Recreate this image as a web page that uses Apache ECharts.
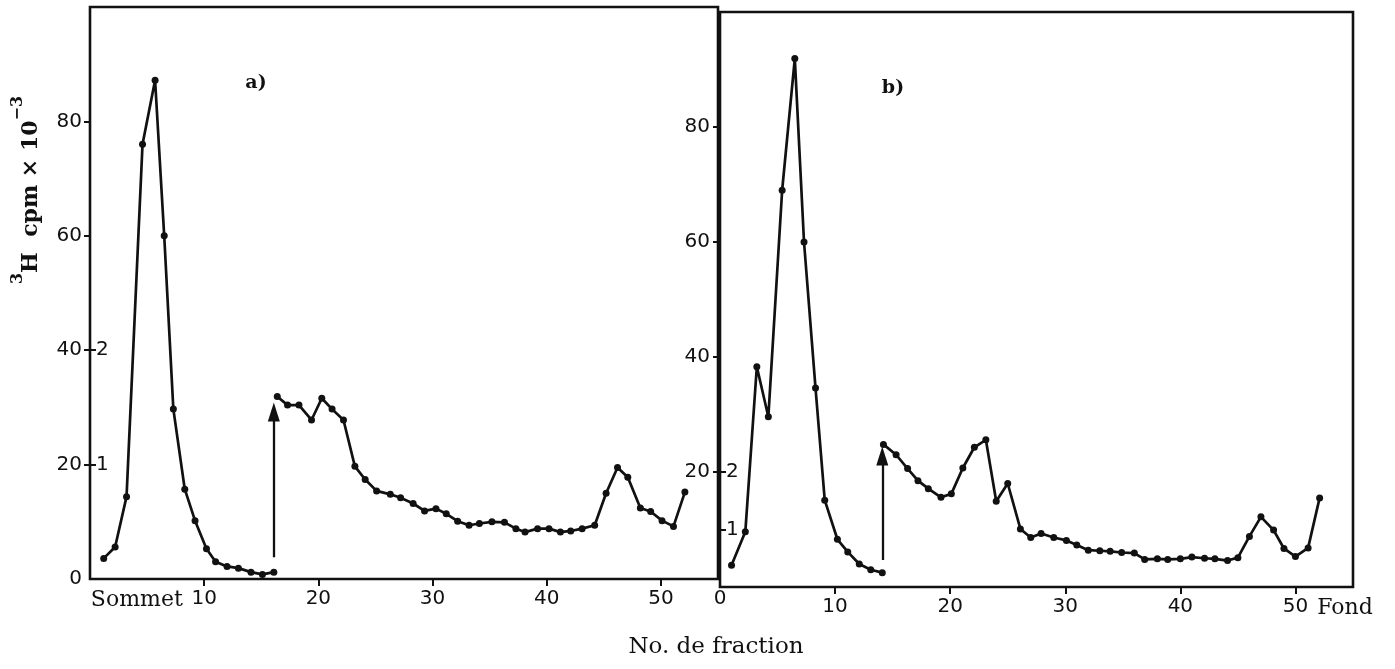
<!DOCTYPE html>
<html>
<head>
<meta charset="utf-8">
<script src="https://cdn.jsdelivr.net/npm/echarts@6/dist/echarts.min.js"></script>
<style>
  html, body { margin: 0; padding: 0; background: #fff; }
  #c { width: 1395px; height: 669px; }
</style>
</head>
<body>
<div id="c"></div>
<script>
// Gradient a): fractions before and after the addition (arrow), 3H cpm x 10^-3
const fracA1 = [1.2, 2.2, 3.2, 4.6, 5.7, 6.5, 7.3, 8.3, 9.2, 10.2, 11.0, 12.0, 13.0, 14.1, 15.1, 16.1];
const cpmA1  = [3.6, 5.6, 14.4, 76.0, 87.2, 60.0, 29.7, 15.7, 10.2, 5.3, 3.0, 2.2, 1.9, 1.2, 0.8, 1.2];
const fracA2 = [16.4, 17.3, 18.3, 19.4, 20.3, 21.2, 22.2, 23.2, 24.1, 25.1, 26.3, 27.2, 28.3, 29.3, 30.3,
                31.2, 32.2, 33.2, 34.1, 35.2, 36.3, 37.3, 38.1, 39.2, 40.2, 41.2, 42.1, 43.1, 44.2, 45.2,
                46.2, 47.1, 48.2, 49.1, 50.1, 51.1, 52.1];
const cpmA2  = [31.9, 30.4, 30.4, 27.8, 31.6, 29.7, 27.8, 19.7, 17.4, 15.4, 14.8, 14.2, 13.2, 11.9, 12.3,
                11.4, 10.1, 9.4, 9.7, 10.0, 9.9, 8.8, 8.2, 8.8, 8.8, 8.2, 8.4, 8.8, 9.4, 15.0,
                19.5, 17.8, 12.4, 11.8, 10.2, 9.2, 15.2];

// Gradient b)
const fracB1 = [1.0, 2.2, 3.2, 4.2, 5.4, 6.5, 7.3, 8.3, 9.1, 10.2, 11.1, 12.1, 13.1, 14.1];
const cpmB1  = [3.8, 9.6, 38.3, 29.6, 69.0, 91.9, 60.0, 34.6, 15.1, 8.3, 6.1, 4.0, 3.0, 2.5];
const fracB2 = [14.2, 15.3, 16.3, 17.2, 18.1, 19.2, 20.1, 21.1, 22.1, 23.1, 24.0, 25.0, 26.1, 27.0, 27.9,
                29.0, 30.1, 31.0, 32.0, 33.0, 33.9, 34.9, 36.0, 36.9, 38.0, 38.9, 40.0, 41.0, 42.1, 43.0,
                44.1, 45.0, 46.0, 47.0, 48.1, 49.0, 50.0, 51.1, 52.1];
const cpmB2  = [24.8, 23.0, 20.6, 18.5, 17.1, 15.6, 16.2, 20.7, 24.3, 25.6, 14.9, 18.0, 10.1, 8.6, 9.3,
                8.6, 8.1, 7.3, 6.4, 6.3, 6.2, 6.0, 5.9, 4.8, 4.9, 4.8, 4.9, 5.2, 5.0, 4.9,
                4.6, 5.1, 8.8, 12.2, 9.9, 6.7, 5.3, 6.8, 15.5];

// Arrows marking the addition: [fraction, from value, to value]
const arrowA = [16.1, 3.8, 29.2];
const arrowB = [14.1, 4.7, 22.8];

// Tick labels
const yTicksA = [0, 20, 40, 60, 80];
const yTicksB = [20, 40, 60, 80];
const xTicksA = [10, 20, 30, 40, 50];
const xTicksB = [0, 10, 20, 30, 40, 50];
// Inner secondary scale (1, 2) on each panel
const innerTicks = [1, 2];
const innerMaxA = 5;   // 1 -> 20, 2 -> 40
const innerMaxB = 10;  // 1 -> 10, 2 -> 20

const INK = '#111';
const SANS = 'DejaVu Sans';
const SERIF = 'DejaVu Serif';

const zip = (xs, ys) => xs.map((x, i) => [x, ys[i]]);

const SOMMET_AT = 4.1;
const FOND_AT = 54.3;

function lineSeries(x, y, xi, yi, arrow) {
  const s = {
    type: 'line',
    xAxisIndex: xi,
    yAxisIndex: yi,
    data: zip(x, y),
    symbol: 'circle',
    symbolSize: 7,
    lineStyle: { color: INK, width: 2.7 },
    itemStyle: { color: INK },
    silent: true,
    z: 3
  };
  if (arrow) {
    s.markLine = {
      silent: true,
      symbol: ['none', 'triangle'],
      label: { show: false },
      lineStyle: { color: INK, width: 2.3, type: 'solid' },
      data: [[
        { coord: [arrow[0], arrow[1]], symbol: 'none' },
        { coord: [arrow[0], arrow[2]], symbol: 'triangle', symbolSize: [12, 19] }
      ]]
    };
  }
  return s;
}

const chart = echarts.init(document.getElementById('c'), null, { renderer: 'canvas' });

const gridStyle = { show: true, borderColor: INK, borderWidth: 2.6, backgroundColor: 'transparent' };

// x labels sit 8px lower than the raised "0" under the b) origin
const xRich = {
  n: { fontFamily: SANS, fontSize: 20, color: INK, padding: [8, 0, 0, 0] },
  z: { fontFamily: SANS, fontSize: 20, color: INK },
  w: { fontFamily: SERIF, fontSize: 22, color: INK, padding: [8, 0, 0, 0] }
};

const option = {
  animation: false,
  backgroundColor: '#fff',
  grid: [
    Object.assign({ left: 90, top: 7, width: 628, height: 572 }, gridStyle),
    Object.assign({ left: 720, top: 12, width: 633, height: 575 }, gridStyle)
  ],
  xAxis: [
    {
      gridIndex: 0, type: 'value', min: 0, max: 55,
      splitLine: { show: false },
      axisLine: { show: false },
      axisTick: { show: true, inside: false, length: 7, customValues: xTicksA, lineStyle: { color: INK, width: 2 } },
      axisLabel: {
        customValues: [SOMMET_AT].concat(xTicksA),
        formatter: v => (v === SOMMET_AT ? '{w|Sommet}' : '{n|' + v + '}'),
        rich: xRich,
        fontFamily: SANS, fontSize: 20, color: INK, margin: 2
      }
    },
    {
      gridIndex: 1, type: 'value', min: 0, max: 55,
      splitLine: { show: false },
      axisLine: { show: false },
      axisTick: { show: true, inside: false, length: 7, customValues: xTicksB.filter(v => v > 0), lineStyle: { color: INK, width: 2 } },
      axisLabel: {
        customValues: xTicksB.concat([FOND_AT]),
        formatter: v => (v === FOND_AT ? '{w|Fond}' : (v === 0 ? '{z|0}' : '{n|' + v + '}')),
        rich: xRich,
        fontFamily: SANS, fontSize: 20, color: INK, margin: 2
      }
    }
  ],
  yAxis: [
    {
      gridIndex: 0, type: 'value', min: 0, max: 100, position: 'left',
      splitLine: { show: false },
      axisLine: { show: false },
      axisTick: { show: true, inside: false, length: 6, customValues: yTicksA.filter(v => v > 0), lineStyle: { color: INK, width: 2 } },
      axisLabel: { customValues: yTicksA, fontFamily: SANS, fontSize: 20, color: INK, margin: 8 }
    },
    {
      gridIndex: 0, type: 'value', min: 0, max: innerMaxA, position: 'left',
      splitLine: { show: false },
      axisLine: { show: false },
      axisTick: { show: true, inside: true, length: 6, customValues: innerTicks, lineStyle: { color: INK, width: 2 } },
      axisLabel: { inside: true, customValues: innerTicks, fontFamily: SANS, fontSize: 20, color: INK, margin: 6 }
    },
    {
      gridIndex: 1, type: 'value', min: 0, max: 100, position: 'left',
      splitLine: { show: false },
      axisLine: { show: false },
      axisTick: { show: true, inside: false, length: 7, customValues: yTicksB, lineStyle: { color: INK, width: 2 } },
      axisLabel: { customValues: yTicksB, fontFamily: SANS, fontSize: 20, color: INK, margin: 10 }
    },
    {
      gridIndex: 1, type: 'value', min: 0, max: innerMaxB, position: 'left',
      splitLine: { show: false },
      axisLine: { show: false },
      axisTick: { show: true, inside: true, length: 6, customValues: innerTicks, lineStyle: { color: INK, width: 2 } },
      axisLabel: { inside: true, customValues: innerTicks, fontFamily: SANS, fontSize: 20, color: INK, margin: 6 }
    }
  ],
  series: [
    lineSeries(fracA1, cpmA1, 0, 0, null),
    lineSeries(fracA2, cpmA2, 0, 0, arrowA),
    lineSeries(fracB1, cpmB1, 1, 2, null),
    lineSeries(fracB2, cpmB2, 1, 2, arrowB)
  ],
  graphic: [
    {
      type: 'text', x: 26, y: 190, rotation: Math.PI / 2,
      style: {
        text: '{s|3}{t|H  cpm × 10}{s|−3}',
        align: 'center', verticalAlign: 'middle',
        rich: {
          t: { fontFamily: SERIF, fontWeight: 'bold', fontSize: 22, fill: INK, lineHeight: 32, verticalAlign: 'bottom' },
          s: { fontFamily: SERIF, fontWeight: 'bold', fontSize: 16, fill: INK, lineHeight: 32, verticalAlign: 'top' }
        }
      }
    },
    {
      type: 'text', x: 256, y: 83,
      style: { text: 'a)', fontFamily: SERIF, fontWeight: 'bold', fontSize: 19, fill: INK, align: 'center', verticalAlign: 'middle' }
    },
    {
      type: 'text', x: 893, y: 88,
      style: { text: 'b)', fontFamily: SERIF, fontWeight: 'bold', fontSize: 19, fill: INK, align: 'center', verticalAlign: 'middle' }
    },
    {
      type: 'text', x: 716, y: 647,
      style: { text: 'No. de fraction', fontFamily: SERIF, fontSize: 23, fill: INK, align: 'center', verticalAlign: 'middle' }
    }
  ]
};

chart.setOption(option);
</script>
</body>
</html>
